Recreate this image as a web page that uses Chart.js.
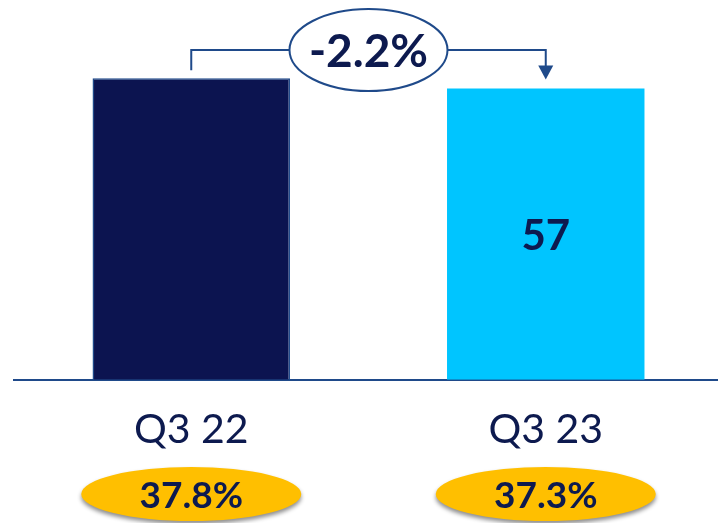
<!DOCTYPE html>
<html>
<head>
<meta charset="utf-8">
<script src="https://cdn.jsdelivr.net/npm/chart.js@4.4.1/dist/chart.umd.min.js"></script>
<style>
  html, body { margin: 0; padding: 0; background: #ffffff; overflow: hidden; }
  #wrap { width: 730px; height: 523px; }
</style>
</head>
<body>
<div id="wrap"><canvas id="c" width="730" height="523"></canvas></div>
<script>
// ---- data ----
const categories = ['Q3 22', 'Q3 23'];
const values = [59, 57];
const valueLabels = [null, '57'];
const marginLabels = ['37.8%', '37.3%'];
const changeLabel = '-2.2%';

const NAVY = '#0c1450';
const TEXT = '#0d1a4f';
const LINE = '#1f4a8a';
const CYAN = '#00c5ff';
const GOLD = '#ffbf00';
const FONT = 'Lato, "Open Sans", sans-serif';

const overlay = {
  id: 'overlay',
  afterDraw(chart) {
    const ctx = chart.ctx;
    const xs = chart.scales.x;
    const meta = chart.getDatasetMeta(0);
    ctx.save();
    // value labels inside bars
    meta.data.forEach((bar, i) => {
      if (!valueLabels[i]) return;
      ctx.fillStyle = TEXT;
      ctx.font = 'bold 42px ' + FONT;
      ctx.textAlign = 'center';
      ctx.textBaseline = 'middle';
      ctx.fillText(valueLabels[i], bar.x, (bar.y + bar.base) / 2 + 2);
    });
    // margin ellipses under the categories
    categories.forEach((c, i) => {
      const cx = xs.getPixelForValue(i);
      const cy = 494;
      ctx.save();
      ctx.shadowColor = 'rgba(0,0,0,0.45)';
      ctx.shadowBlur = 4;
      ctx.shadowOffsetY = 3;
      ctx.beginPath();
      ctx.ellipse(cx, cy, 110, 27, 0, 0, Math.PI * 2);
      ctx.fillStyle = GOLD;
      ctx.fill();
      ctx.restore();
      ctx.fillStyle = TEXT;
      ctx.font = 'bold 37px ' + FONT;
      ctx.textAlign = 'center';
      ctx.textBaseline = 'alphabetic';
      ctx.fillText(marginLabels[i], cx, cy + 14);
    });
    // change annotation
    const b0 = meta.data[0], b1 = meta.data[1];
    const x0 = b0.x, x1 = b1.x;
    const midX = (x0 + x1) / 2;
    const lineY = 50;
    const rx = 79, ry = 41;
    ctx.strokeStyle = LINE;
    ctx.lineWidth = 2;
    ctx.beginPath();
    ctx.moveTo(x0, b0.y - 8);
    ctx.lineTo(x0, lineY);
    ctx.lineTo(midX - rx, lineY);
    ctx.moveTo(midX + rx, lineY);
    ctx.lineTo(x1, lineY);
    ctx.lineTo(x1, b1.y - 22);
    ctx.stroke();
    ctx.fillStyle = LINE;
    ctx.beginPath();
    ctx.moveTo(x1 - 7.5, b1.y - 23);
    ctx.lineTo(x1 + 7.5, b1.y - 23);
    ctx.lineTo(x1, b1.y - 9);
    ctx.closePath();
    ctx.fill();
    ctx.beginPath();
    ctx.ellipse(midX, lineY, rx, ry, 0, 0, Math.PI * 2);
    ctx.fillStyle = '#ffffff';
    ctx.fill();
    ctx.stroke();
    ctx.fillStyle = TEXT;
    ctx.font = 'bold 46px ' + FONT;
    ctx.textAlign = 'center';
    ctx.textBaseline = 'alphabetic';
    ctx.fillText(changeLabel, midX, lineY + 17);
    ctx.restore();
  }
};

new Chart(document.getElementById('c'), {
  type: 'bar',
  data: {
    labels: categories,
    datasets: [{
      data: values,
      backgroundColor: [NAVY, CYAN],
      borderColor: [LINE, CYAN],
      borderWidth: [1.5, 0],
      categoryPercentage: 1,
      barPercentage: 0.557
    }]
  },
  options: {
    responsive: false,
    animation: false,
    devicePixelRatio: 1,
    layout: { padding: { left: 14, right: 7, top: 22, bottom: 44 } },
    plugins: { legend: { display: false }, tooltip: { enabled: false } },
    scales: {
      x: {
        grid: { display: false, drawTicks: false },
        border: { display: true, color: LINE, width: 2 },
        ticks: { color: TEXT, font: { family: FONT, size: 41 }, padding: 25 }
      },
      y: {
        display: false,
        min: 0,
        max: 70
      }
    }
  },
  plugins: [overlay]
});
</script>
</body>
</html>
